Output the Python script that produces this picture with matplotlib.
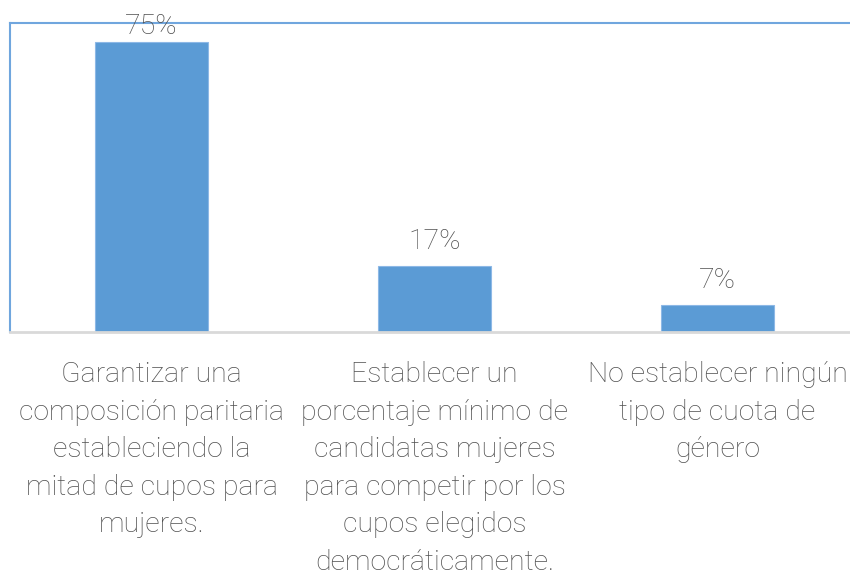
import matplotlib
matplotlib.use("Agg")
import matplotlib.pyplot as plt

categories = [
    "Garantizar una\ncomposición paritaria\nestableciendo la\nmitad de cupos para\nmujeres.",
    "Establecer un\nporcentaje mínimo de\ncandidatas mujeres\npara competir por los\ncupos elegidos\ndemocráticamente.",
    "No establecer ningún\ntipo de cuota de\ngénero",
]
values = [75, 17, 7]
labels = ["75%", "17%", "7%"]

plt.rcParams['font.family'] = ['Roboto', 'DejaVu Sans']
text_color = '#505050'

fig = plt.figure(figsize=(8.5, 5.74), dpi=100)
ax = fig.add_axes([10/850, (574-332)/574, 1 - 10/850, (332-23)/574])

x = list(range(len(values)))
ax.bar(x, values, width=0.4, color='#5B9BD5', edgecolor='#8DB8E6', linewidth=0.8, zorder=2)
ax.set_xlim(-0.5, 2.468)
ax.set_ylim(0, 80)

for xi, v, lab in zip(x, values, labels):
    ax.text(xi, min(v + 4.5, 77.1), lab, ha='center', va='baseline',
            fontsize=20.5, color=text_color, fontweight='light')

ax.set_yticks([])
ax.set_xticks(x)
ax.set_xticklabels(categories, fontsize=20.5, color=text_color, linespacing=1.5,
                   va='top', fontweight='light')
ax.tick_params(axis='x', length=0, pad=21)

ax.spines['right'].set_visible(False)
ax.spines['top'].set_color('#70A6DE')
ax.spines['left'].set_color('#70A6DE')
ax.spines['top'].set_linewidth(1.5)
ax.spines['left'].set_linewidth(1.5)
ax.spines['bottom'].set_color('#D9D9D9')
ax.spines['bottom'].set_linewidth(2)

fig.savefig('out.png', dpi=100)
